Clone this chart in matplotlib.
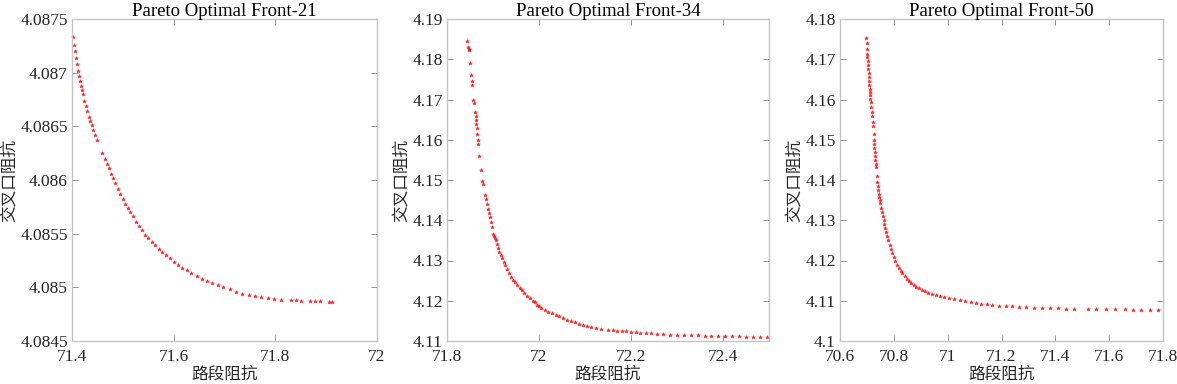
import numpy as np
import matplotlib
matplotlib.use('Agg')
import matplotlib.pyplot as plt

plt.rcParams['font.family'] = ['Liberation Serif', 'Noto Sans CJK SC']
plt.rcParams['font.size'] = 12

# front 21
x21 = [71.401, 71.403, 71.405, 71.407, 71.409, 71.411, 71.413, 71.415, 71.417, 71.419,
       71.421, 71.424, 71.427, 71.430, 71.433, 71.436, 71.439, 71.442, 71.446, 71.450,
       71.460, 71.464, 71.468, 71.472, 71.476, 71.480, 71.485, 71.490, 71.495, 71.500,
       71.505, 71.510, 71.515, 71.520, 71.526, 71.532, 71.538, 71.544, 71.550, 71.557,
       71.564, 71.571, 71.578, 71.585, 71.593, 71.601, 71.609, 71.617, 71.626, 71.635,
       71.645, 71.655, 71.665, 71.676, 71.687, 71.698, 71.710, 71.722, 71.735, 71.748,
       71.760, 71.772, 71.785, 71.798, 71.812, 71.830, 71.840, 71.850, 71.868, 71.878,
       71.888, 71.905, 71.912]
y21 = [4.08733, 4.08726, 4.08720, 4.08714, 4.08708, 4.08702, 4.08697, 4.08692, 4.08688, 4.08684,
       4.08680, 4.08674, 4.08669, 4.08664, 4.08659, 4.08655, 4.08651, 4.08647, 4.08642, 4.08637,
       4.08625, 4.08620, 4.08615, 4.08611, 4.08606, 4.08602, 4.08597, 4.08592, 4.08587, 4.08582,
       4.08578, 4.08574, 4.08570, 4.08566, 4.08561, 4.08557, 4.08553, 4.08549, 4.08546, 4.08542,
       4.08539, 4.08536, 4.08533, 4.08530, 4.08527, 4.08524, 4.08521, 4.08518, 4.08516, 4.08513,
       4.08511, 4.08508, 4.08506, 4.08504, 4.08502, 4.08500, 4.08498, 4.08496, 4.08494, 4.08493,
       4.08492, 4.08491, 4.08490, 4.08489, 4.08488, 4.08488, 4.08488, 4.08487, 4.08487, 4.08487,
       4.08487, 4.08486, 4.08486]

# front 34
x34 = [71.844, 71.846, 71.847, 71.848, 71.851, 71.852, 71.854, 71.855, 71.857, 71.858,
       71.861, 71.862, 71.863, 71.864, 71.865, 71.866, 71.867, 71.868, 71.870, 71.873,
       71.877, 71.879, 71.882, 71.884, 71.886, 71.889, 71.891, 71.893, 71.896, 71.898,
       71.900, 71.902, 71.904, 71.906, 71.908, 71.911, 71.914, 71.917, 71.920, 71.924,
       71.927, 71.931, 71.935, 71.940, 71.944, 71.948, 71.953, 71.958, 71.963, 71.968,
       71.974, 71.980, 71.986, 71.991, 71.996, 72.000, 72.005, 72.012, 72.020, 72.028,
       72.036, 72.044, 72.052, 72.060, 72.069, 72.078, 72.087, 72.096, 72.105, 72.114,
       72.125, 72.135, 72.150, 72.160, 72.170, 72.180, 72.190, 72.200, 72.210, 72.220,
       72.232, 72.244, 72.256, 72.270, 72.285, 72.300, 72.315, 72.330, 72.345, 72.360,
       72.375, 72.390, 72.405, 72.420, 72.435, 72.450, 72.465, 72.480, 72.495]
y34 = [4.1846, 4.1830, 4.1825, 4.1822, 4.1790, 4.1760, 4.1745, 4.1735, 4.1698, 4.1692,
       4.1670, 4.1660, 4.1650, 4.1638, 4.1628, 4.1615, 4.1600, 4.1590, 4.1560, 4.1526,
       4.1498, 4.1490, 4.1462, 4.1452, 4.1440, 4.1428, 4.1418, 4.1408, 4.1395, 4.1382,
       4.1366, 4.1360, 4.1356, 4.1350, 4.1340, 4.1330, 4.1322, 4.1314, 4.1306, 4.1296,
       4.1288, 4.1278, 4.1270, 4.1259, 4.1252, 4.1246, 4.1238, 4.1232, 4.1226, 4.1220,
       4.1212, 4.1206, 4.1200, 4.1196, 4.1190, 4.1187, 4.1182, 4.1177, 4.1173, 4.1170,
       4.1165, 4.1161, 4.1157, 4.1153, 4.1149, 4.1146, 4.1143, 4.1140, 4.1137, 4.1135,
       4.1132, 4.1130, 4.1128, 4.1127, 4.1126, 4.1125, 4.1124, 4.1123, 4.1122, 4.1121,
       4.1120, 4.1119, 4.1118, 4.1117, 4.1116, 4.1115, 4.1115, 4.1114, 4.1114, 4.1113,
       4.1113, 4.1113, 4.1112, 4.1112, 4.1112, 4.1111, 4.1111, 4.1111, 4.1111]

# front 50
x50 = [70.698, 70.699, 70.700, 70.701, 70.702, 70.703, 70.704, 70.705, 70.706, 70.707,
       70.708, 70.709, 70.710, 70.711, 70.712, 70.713, 70.714, 70.716, 70.718, 70.720,
       70.722, 70.723, 70.725, 70.726, 70.727, 70.728, 70.729, 70.730, 70.731, 70.732,
       70.733, 70.736, 70.738, 70.740, 70.742, 70.744, 70.746, 70.748, 70.750, 70.753,
       70.756, 70.759, 70.762, 70.765, 70.768, 70.772, 70.776, 70.780, 70.785, 70.790,
       70.795, 70.800, 70.806, 70.812, 70.818, 70.825, 70.832, 70.840, 70.848, 70.856,
       70.865, 70.874, 70.884, 70.894, 70.905, 70.916, 70.928, 70.940, 70.955, 70.970,
       70.985, 71.005, 71.025, 71.045, 71.065, 71.085, 71.105, 71.125, 71.145, 71.165,
       71.190, 71.215, 71.240, 71.265, 71.290, 71.320, 71.350, 71.380, 71.410, 71.440,
       71.470, 71.520, 71.550, 71.590, 71.620, 71.660, 71.690, 71.720, 71.750, 71.780]
y50 = [4.1752, 4.1740, 4.1725, 4.1712, 4.1705, 4.1695, 4.1685, 4.1675, 4.1665, 4.1655,
       4.1645, 4.1635, 4.1626, 4.1618, 4.1610, 4.1602, 4.1594, 4.1582, 4.1570, 4.1558,
       4.1545, 4.1535, 4.1515, 4.1500, 4.1490, 4.1480, 4.1470, 4.1460, 4.1450, 4.1440,
       4.1432, 4.1410, 4.1395, 4.1385, 4.1375, 4.1365, 4.1357, 4.1350, 4.1342, 4.1330,
       4.1320, 4.1310, 4.1300, 4.1290, 4.1280, 4.1270, 4.1260, 4.1250, 4.1238, 4.1228,
       4.1218, 4.1208, 4.1198, 4.1190, 4.1182, 4.1175, 4.1168, 4.1161, 4.1155, 4.1150,
       4.1145, 4.1140, 4.1135, 4.1131, 4.1127, 4.1123, 4.1120, 4.1118, 4.1115, 4.1112,
       4.1110, 4.1107, 4.1104, 4.1101, 4.1099, 4.1097, 4.1095, 4.1093, 4.1091, 4.1090,
       4.1088, 4.1087, 4.1086, 4.1085, 4.1084, 4.1083, 4.1082, 4.1081, 4.1081, 4.1080,
       4.1080, 4.1080, 4.1079, 4.1079, 4.1079, 4.1079, 4.1078, 4.1078, 4.1078, 4.1078]

fronts = [(x21, y21, '21'), (x34, y34, '34'), (x50, y50, '50')]
xlims = [(71.4, 72), (71.8, 72.5), (70.6, 71.8)]
ylims = [(4.0845, 4.0875), (4.11, 4.19), (4.10, 4.18)]
xticks = [[71.4, 71.6, 71.8, 72], [71.8, 72, 72.2, 72.4], [70.6, 70.8, 71, 71.2, 71.4, 71.6, 71.8]]
yticks = [[4.0845, 4.085, 4.0855, 4.086, 4.0865, 4.087, 4.0875],
          [4.11, 4.12, 4.13, 4.14, 4.15, 4.16, 4.17, 4.18, 4.19],
          [4.10, 4.11, 4.12, 4.13, 4.14, 4.15, 4.16, 4.17, 4.18]]
ytlabels = [['4.0845', '4.085', '4.0855', '4.086', '4.0865', '4.087', '4.0875'],
            ['4.11', '4.12', '4.13', '4.14', '4.15', '4.16', '4.17', '4.18', '4.19'],
            ['4.1', '4.11', '4.12', '4.13', '4.14', '4.15', '4.16', '4.17', '4.18']]
xtlabels = [['71.4', '71.6', '71.8', '72'], ['71.8', '72', '72.2', '72.4'],
            ['70.6', '70.8', '71', '71.2', '71.4', '71.6', '71.8']]

# axes boxes in pixels (left, right)
boxes = [(72, 377), (447, 769), (840, 1163)]
W, H = 1177, 384

fig = plt.figure(figsize=(W / 100, H / 100), dpi=100)
for i, (xs, ys, name) in enumerate(fronts):
    l, r = boxes[i]
    ax = fig.add_axes([l / W, (H - 341) / H, (r - l) / W, (341 - 19) / H])
    ax.scatter(xs, ys, s=8, marker='*', color='red', linewidths=0.3, alpha=0.85, clip_on=False)
    ax.set_xlim(*xlims[i])
    ax.set_ylim(*ylims[i])
    ax.set_xticks(xticks[i])
    ax.set_xticklabels(xtlabels[i])
    ax.set_yticks(yticks[i])
    ax.set_yticklabels(ytlabels[i])
    ax.tick_params(direction='in', top=True, right=True, length=4, width=0.7,
                   color='#909090', labelcolor='#262626', labelsize=12.5, pad=3)
    ax.tick_params(axis='x', pad=6)
    for sp in ax.spines.values():
        sp.set_color('#c4c4c4')
        sp.set_linewidth(1.0)
    ax.set_title(f'Pareto Optimal Front-{name}', fontsize=13.5, pad=2)
    ax.set_xlabel('路段阻抗', fontsize=12, color='#262626', labelpad=1)
    ax.set_ylabel('交叉口阻抗', fontsize=12, color='#262626', labelpad=2)

plt.savefig('out.png', dpi=100)
